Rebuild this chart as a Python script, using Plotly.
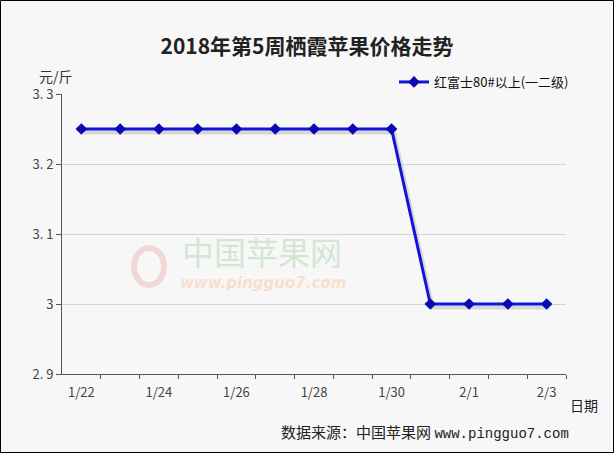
import plotly.graph_objects as go

dates = ["1/22", "1/23", "1/24", "1/25", "1/26", "1/27", "1/28", "1/29",
         "1/30", "1/31", "2/1", "2/2", "2/3"]
prices = [3.25, 3.25, 3.25, 3.25, 3.25, 3.25, 3.25, 3.25, 3.25,
          3.0, 3.0, 3.0, 3.0]
series_name = "红富士80#以上(一二级)"
y_ticks = [2.9, 3.0, 3.1, 3.2, 3.3]
y_ticktext = ["2. 9", "3", "3. 1", "3. 2", "3. 3"]

W, H = 614, 453
ML, MR, MT, MB = 62, 48, 94, 79
PW, PH = W - ML - MR, H - MT - MB

idx = list(range(len(dates)))

fig = go.Figure()
# shadow
fig.add_trace(go.Scatter(
    x=[i + 0.06 for i in idx], y=[p - 0.005 for p in prices], mode="lines",
    line=dict(color="rgba(0,0,0,0.13)", width=4), hoverinfo="skip",
    showlegend=False))
fig.add_trace(go.Scatter(
    x=idx, y=prices, mode="lines+markers", name=series_name,
    line=dict(color="#1414d8", width=3),
    marker=dict(symbol="diamond", size=9, color="#0a0ab4"),
))

fx = lambda px: (px - ML) / PW
fy = lambda py: 1 - (py - MT) / PH

fig.update_layout(
    width=W, height=H,
    margin=dict(l=ML, r=MR, t=MT, b=MB),
    paper_bgcolor="#f7f7f7", plot_bgcolor="#f7f7f7",
    font=dict(family="Noto Sans CJK SC, sans-serif", color="#333"),
    title=dict(text="<b>2018年第5周栖霞苹果价格走势</b>", x=0.5, xanchor="center",
               y=1 - 47 / H, yanchor="middle",
               font=dict(size=21, color="#222", family="Noto Sans CJK SC")),
    showlegend=True,
    legend=dict(x=fx(394), y=fy(82), xanchor="left", yanchor="middle",
                bgcolor="rgba(0,0,0,0)", font=dict(size=13, color="#111"),
                itemwidth=30),
    xaxis=dict(
        range=[-0.5, len(dates) - 0.5], showgrid=False, zeroline=False,
        tickvals=idx[::2], ticktext=dates[::2], ticks="",
        tickfont=dict(size=13, color="#444", family="Noto Sans CJK SC"),
        showline=True, linecolor="#555", linewidth=1,
        minor=dict(tickvals=[i + 0.5 for i in idx], ticks="outside",
                   ticklen=4, tickcolor="#555", showgrid=False),
        ticklabelstandoff=6,
    ),
    yaxis=dict(
        range=[2.9, 3.3], tickvals=y_ticks, ticktext=y_ticktext,
        showgrid=True, gridcolor="#d4d4d4", gridwidth=1, zeroline=False,
        showline=True, linecolor="#555", linewidth=1,
        ticks="outside", ticklen=5, tickcolor="#555",
        tickfont=dict(size=13, color="#444", family="Noto Sans CJK SC"),
    ),
    annotations=[
        dict(text="元/斤", x=fx(56), y=fy(76), xref="paper", yref="paper",
             showarrow=False, xanchor="center", yanchor="middle",
             font=dict(size=14, color="#333")),
        dict(text="日期", x=fx(584), y=fy(405), xref="paper", yref="paper",
             showarrow=False, xanchor="center", yanchor="middle",
             font=dict(size=14, color="#222")),
        dict(text="数据来源：中国苹果网 <span style='font-family:Liberation Mono;font-size:14px'>www.pingguo7.com</span>",
             x=fx(571), y=fy(431),
             xref="paper", yref="paper", showarrow=False, xanchor="right",
             yanchor="middle", font=dict(size=15, color="#222")),
        dict(text="中国苹果网", x=fx(262), y=fy(251), xref="paper", yref="paper",
             showarrow=False, xanchor="center", yanchor="middle",
             font=dict(size=32, color="rgba(190,220,190,0.65)")),
        dict(text="<b><i>www.pingguo7.com</i></b>", x=fx(263), y=fy(283), xref="paper",
             yref="paper", showarrow=False, xanchor="center", yanchor="middle",
             font=dict(size=15, color="rgba(250,210,180,0.65)",
                       family="DejaVu Sans")),
    ],
    shapes=[
        dict(type="rect", xref="paper", yref="paper",
             x0=fx(0.5), x1=fx(W - 0.5), y0=fy(H - 0.5), y1=fy(0.5),
             line=dict(color="#000", width=1), layer="above"),
        dict(type="circle", xref="paper", yref="paper",
             x0=fx(134), x1=fx(164), y0=fy(285), y1=fy(248),
             line=dict(color="rgba(235,195,195,0.6)", width=6), layer="below"),
    ],
)

fig.write_html("out.html", config={"displayModeBar": False},
               post_script="document.body.style.margin='0';document.body.style.padding='0';")
